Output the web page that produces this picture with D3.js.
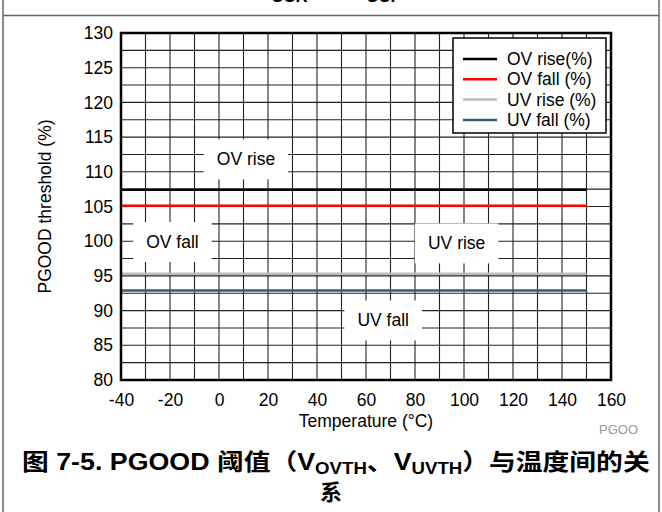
<!DOCTYPE html>
<html>
<head>
<meta charset="utf-8">
<script src="https://cdn.jsdelivr.net/npm/d3@7"></script>
<style>
  body { margin: 0; background: #fff; }
  svg { display: block; font-family: "Liberation Sans", Arial, "Noto Sans CJK SC", sans-serif; }
</style>
</head>
<body>
<div id="chart"></div>
<script>
// data
const temperature = [-40, 150];
const ovRise = [107.4, 107.4];
const ovFall = [105.1, 105.1];
const uvRise = [95.3, 95.3];
const uvFall = [92.9, 92.9];
const seriesNames = ["OV rise(%)", "OV fall (%)", "UV rise (%)", "UV fall (%)"];
const seriesColors = ["#000000", "#ff0000", "#bdbdbd", "#2f5e7b"];
const xTicks = [-40, -20, 0, 20, 40, 60, 80, 100, 120, 140, 160];
const yTicks = [80, 85, 90, 95, 100, 105, 110, 115, 120, 125, 130];
const noteLabels = ["OV rise", "OV fall", "UV rise", "UV fall"];
const noteTemp = [11, -19, 97, 67];
const noteValue = [111.8, 99.9, 99.7, 88.6];

var width = 662, height = 512;
var margin = {top: 33, right: 51, bottom: 132, left: 121};
var fs = "17.5px";

var svg = d3.select("#chart").append("svg")
    .attr("width", width)
    .attr("height", height);

// outer table cell
svg.append("line").attr("x1", 3).attr("x2", 3).attr("y1", 0).attr("y2", height)
    .attr("stroke", "#666").attr("stroke-width", 1.5);
svg.append("line").attr("x1", 659).attr("x2", 659).attr("y1", 0).attr("y2", height)
    .attr("stroke", "#666").attr("stroke-width", 1.5);
svg.append("line").attr("x1", 3).attr("x2", 659).attr("y1", 15.5).attr("y2", 15.5)
    .attr("stroke", "#666").attr("stroke-width", 1.5);

// previous caption, only its bottom edge shows
var prev = svg.append("text")
    .attr("y", -4)
    .style("font-size", "24px").style("font-weight", "bold");
prev.append("tspan").attr("x", 161).text("图");
prev.append("tspan").attr("x", 255).text("V");
prev.append("tspan").attr("dy", 6).style("font-size", "17px").text("CCR");
prev.append("tspan").attr("dy", -6).attr("x", 326).text("、V");
prev.append("tspan").attr("dy", 6).style("font-size", "17px").text("CCF");
prev.append("tspan").attr("dy", -6).attr("x", 410).text("与");

var x = d3.scaleLinear().domain([-40, 160]).range([margin.left, width - margin.right]);
var y = d3.scaleLinear().domain([80, 130]).range([height - margin.bottom, margin.top]);

var g = svg.append("g");

// grid
g.selectAll(".vgrid")
    .data(d3.range(-30, 160, 10))
  .enter().append("line")
    .attr("x1", d => x(d)).attr("x2", d => x(d))
    .attr("y1", y(80)).attr("y2", y(130))
    .attr("stroke", "#222").attr("stroke-width", 1.1);
g.selectAll(".hgrid")
    .data(d3.range(82.5, 130, 2.5))
  .enter().append("line")
    .attr("x1", x(-40)).attr("x2", x(160))
    .attr("y1", d => y(d)).attr("y2", d => y(d))
    .attr("stroke", "#222").attr("stroke-width", 1.1);

// annotation boxes over the grid
var notes = g.selectAll(".note")
    .data(noteLabels)
  .enter().append("g");
notes.append("text")
    .attr("x", (d, i) => x(noteTemp[i]))
    .attr("y", (d, i) => y(noteValue[i]))
    .attr("dy", "0.35em")
    .attr("text-anchor", "middle")
    .style("font-size", fs)
    .text(d => d);
notes.each(function() {
  var t = d3.select(this).select("text");
  var b = t.node().getBBox();
  d3.select(this).insert("rect", "text")
      .attr("x", b.x - 13).attr("y", b.y - 10)
      .attr("width", b.width + 26).attr("height", b.height + 20)
      .attr("fill", "#fff");
});

// series
var series = [ovRise, ovFall, uvRise, uvFall];
var line = d3.line()
    .x((d, i) => x(temperature[i]))
    .y(d => y(d));
g.selectAll(".series")
    .data(series)
  .enter().append("path")
    .attr("d", line)
    .attr("fill", "none")
    .attr("stroke", (d, i) => seriesColors[i])
    .attr("stroke-width", 2.5);

// frame
g.append("rect")
    .attr("x", x(-40)).attr("y", y(130))
    .attr("width", x(160) - x(-40)).attr("height", y(80) - y(130))
    .attr("fill", "none").attr("stroke", "#000").attr("stroke-width", 2.5);

// axes
var xAxis = svg.append("g")
    .attr("transform", "translate(0," + y(80) + ")")
    .call(d3.axisBottom(x).tickValues(xTicks).tickSize(0).tickPadding(14).tickFormat(d3.format("d")));
var yAxis = svg.append("g")
    .attr("transform", "translate(" + x(-40) + ",0)")
    .call(d3.axisLeft(y).tickValues(yTicks).tickSize(0).tickPadding(8));
[xAxis, yAxis].forEach(function(a) {
  a.select(".domain").remove();
  a.selectAll("text").style("font-size", fs).style("font-family", "Liberation Sans, Arial, sans-serif").attr("fill", "#000");
});
xAxis.selectAll("text").text(d => String(d).replace("−", "-"));

svg.append("text")
    .attr("x", (x(-40) + x(160)) / 2).attr("y", 427)
    .attr("text-anchor", "middle")
    .style("font-size", fs)
    .text("Temperature (°C)");
svg.append("text")
    .attr("transform", "translate(51," + (y(105)) + ") rotate(-90)")
    .attr("text-anchor", "middle")
    .style("font-size", fs)
    .text("PGOOD threshold (%)");

// legend
var legend = svg.append("g");
legend.append("rect")
    .attr("x", 453).attr("y", 38).attr("width", 153).attr("height", 95)
    .attr("fill", "#fff").attr("stroke", "#000").attr("stroke-width", 1.5);
var items = legend.selectAll(".item")
    .data(seriesNames)
  .enter().append("g")
    .attr("transform", (d, i) => "translate(463," + (59 + i * 20.3) + ")");
items.append("line")
    .attr("x1", 0).attr("x2", 34)
    .attr("stroke", (d, i) => seriesColors[i]).attr("stroke-width", 2.5);
items.append("text")
    .attr("x", 44).attr("dy", "0.35em")
    .style("font-size", fs)
    .text(d => d);

svg.append("text")
    .attr("x", 599).attr("y", 434)
    .style("font-size", "13px").attr("fill", "#999")
    .text("PGOO");

// caption
var cap = svg.append("text")
    .attr("x", 22).attr("y", 470)
    .style("font-size", "23px").style("font-weight", "bold")
    .style("font-family", "'Liberation Sans', 'Noto Sans CJK SC', sans-serif");
cap.append("tspan").text("图 7-5. PGOOD 阈值（V");
cap.append("tspan").attr("dy", 4).style("font-size", "16px").text("OVTH");
cap.append("tspan").attr("dy", -4).text("、V");
cap.append("tspan").attr("dy", 4).style("font-size", "16px").text("UVTH");
cap.append("tspan").attr("dy", -4).text("）与温度间的关");
// stretch the caption line to the width it has in the reference
var cw = cap.node().getBBox().width;
if (Math.abs(cw - 628) > 4) {
  cap.attr("transform", "translate(22,0) scale(" + (628 / cw) + ",1) translate(-22,0)");
}
svg.append("text")
    .attr("x", 331).attr("y", 500)
    .attr("text-anchor", "middle")
    .style("font-size", "22px").style("font-weight", "bold")
    .style("font-family", "'Noto Sans CJK SC', sans-serif")
    .text("系");
</script>
</body>
</html>
